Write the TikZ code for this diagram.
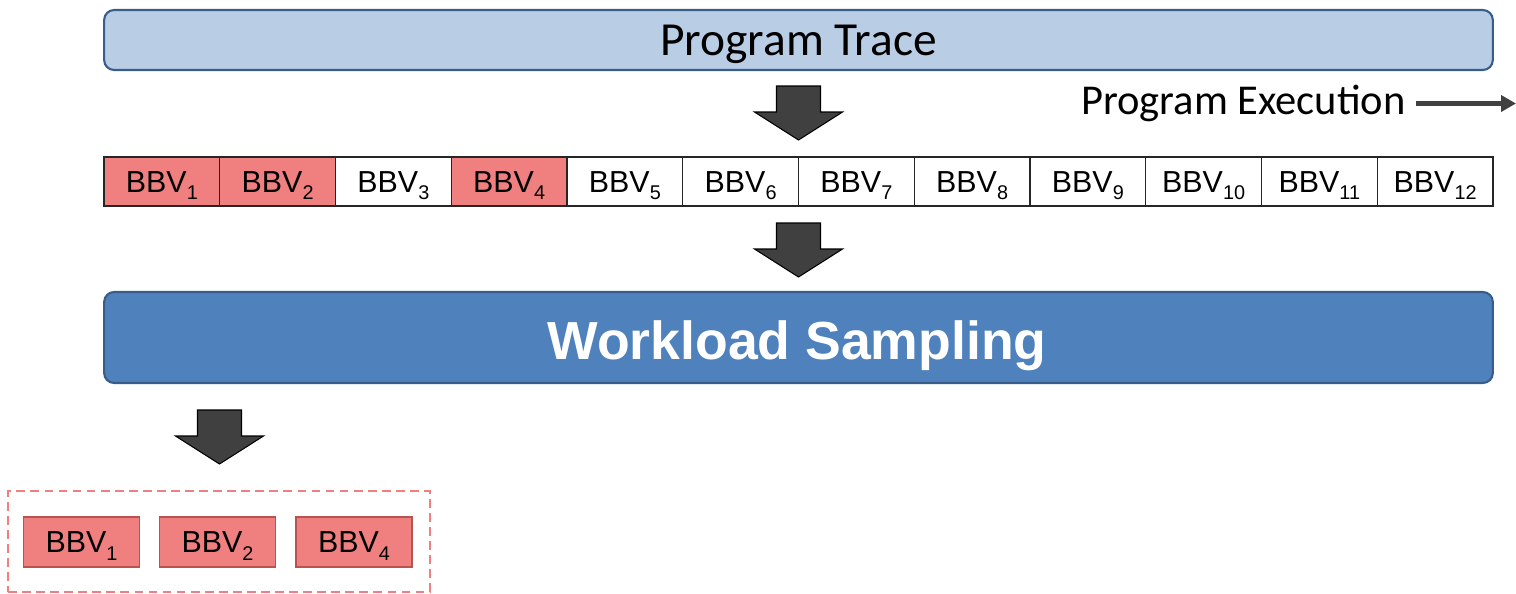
\documentclass[tikz,border=0pt]{standalone}
\usepackage{fontspec}
\setmainfont{Liberation Sans}
\newfontfamily\calibri{Carlito}
\usetikzlibrary{arrows.meta}
\definecolor{tracefill}{HTML}{B9CDE5}
\definecolor{boxedge}{HTML}{385D8A}
\definecolor{wsfill}{HTML}{4F81BD}
\definecolor{bbvred}{HTML}{F08080}
\definecolor{bbvredge}{HTML}{B85450}
\definecolor{arrowgray}{HTML}{404040}
\newcommand\bbv[1]{BBV\raisebox{-0.24em}{\fontsize{11.3pt}{12pt}\selectfont #1}}
\newcommand\fatdown[2]{%
  \filldraw[fatarrow] (#1-22,#2) -- (#1+22,#2) -- (#1+22,#2+26) -- (#1+44,#2+26)
    -- (#1,#2+54) -- (#1-44,#2+26) -- (#1-22,#2+26) -- cycle;}
\begin{document}
\begin{tikzpicture}[x=0.02cm,y=-0.02cm,
  bigbox/.style={draw=boxedge, line width=1.2pt, rounded corners=0.2cm, inner sep=0pt},
  cell/.style={draw=black!85, line width=0.7pt, minimum width=2.315cm, minimum height=0.98cm,
    inner sep=0pt, text height=12.5pt, text depth=0pt, font=\fontsize{17.3pt}{19pt}\selectfont},
  redcell/.style={cell, fill=bbvred},
  pickcell/.style={draw=bbvredge, line width=0.7pt, fill=bbvred, minimum width=2.32cm,
    minimum height=1.0cm, inner sep=0pt, text height=12.5pt, text depth=0pt,
    font=\fontsize{17.3pt}{19pt}\selectfont},
  fatarrow/.style={fill=arrowgray, draw=black, line width=0.6pt, line join=miter},
]
\useasboundingbox (0,0) rectangle (1516,593);

\node[bigbox, fill=tracefill, minimum width=27.78cm, minimum height=1.2cm,
  text height=17.3pt, text depth=0pt,
  font=\calibri\fontsize{27pt}{30pt}\selectfont] (trace) at (798.5,40) {Program Trace};

\node[anchor=east, inner sep=0pt, text height=15.6pt, text depth=0pt,
  font=\calibri\fontsize{24.2pt}{27pt}\selectfont] (pe) at (1406,100.5) {Program Execution};
\coordinate (peend) at (1516,103.5);
\draw[line width=2.6pt, draw=arrowgray, -{Triangle[length=0.3cm,width=0.32cm]}]
  ([xshift=0.2cm,yshift=-0.06cm]pe.east) -- (peend);

\fatdown{798.5}{86}

\foreach \i in {1,...,12}{
  \pgfmathsetmacro\cx{104+115.75*(\i-0.5)}
  \ifnum\i=1 \def\sty{redcell}\else\ifnum\i=2 \def\sty{redcell}\else\ifnum\i=4 \def\sty{redcell}\else\def\sty{cell}\fi\fi\fi
  \node[\sty] (c\i) at (\cx,181.5) {\bbv{\i}};
}

\fatdown{798.5}{223}

\node[bigbox, fill=wsfill, minimum width=27.78cm, minimum height=1.82cm, text=white,
  font=\bfseries\fontsize{30.5pt}{33pt}\selectfont] (ws) at (798.5,337.5) {};
\node[text=white, inner sep=0pt, text height=21.8pt, text depth=0pt,
  font=\bfseries\fontsize{30.5pt}{33pt}\selectfont] (wslabel) at (797,340.5) {Workload Sampling};

\fatdown{219.5}{410}

\node[draw=bbvred, line width=1pt, dash pattern=on 5pt off 3pt, minimum width=8.44cm,
  minimum height=2.02cm, inner sep=0pt] (sel) at (219,541.5) {};
\node[pickcell] (s1) at (81.5,542) {\bbv{1}};
\node[pickcell] (s2) at (217.5,542) {\bbv{2}};
\node[pickcell] (s4) at (354,542) {\bbv{4}};
\end{tikzpicture}
\end{document}
